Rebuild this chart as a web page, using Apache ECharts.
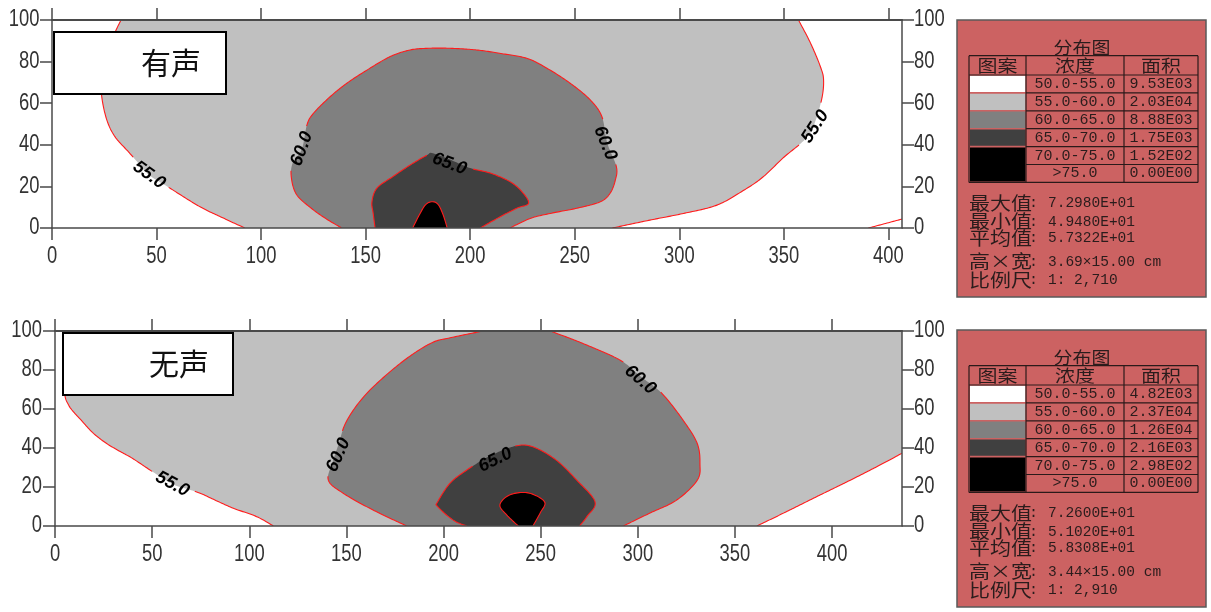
<!DOCTYPE html>
<html>
<head>
<meta charset="utf-8">
<script src="https://cdn.jsdelivr.net/npm/echarts/dist/echarts.min.js"></script>
<style>
  html, body { margin: 0; padding: 0; background: #fff; }
  #chart { width: 1211px; height: 612px; }
</style>
</head>
<body>
<div id="chart"></div>
<script>
// ---------- data ----------
const xTicks = [0, 50, 100, 150, 200, 250, 300, 350, 400];
const yTicks = [0, 20, 40, 60, 80, 100];
const fillColors = ['#ffffff', '#c0c0c0', '#808080', '#404040', '#000000'];

// 有声 profile: x extent and contour lines [x, y]
const topXMax = 406.5;
const top55Left = [[33,100],[30,93.6],[26.2,82.4],[23.8,72.7],[23.8,63.1],[26.2,52],[30.1,43.9],[36.5,36.7],[41,31.5],[46.4,25.5],[56.5,19.1],[70.8,10.2],[83.6,4],[92.2,0]];
const top55Right = [[268,0],[286,3.8],[302,7],[318,11],[330.6,18],[340,24.5],[350,34],[359.5,42],[364,48.6],[368,61.5],[369,71],[367.5,77.5],[362.7,89],[357,100]];
const top55Corner = [[390.4,0],[398,2],[406.5,4.3]];
const top60 = [[138.5,0],[131,4.5],[124,9.5],[117,16],[114.5,24],[115,31],[119.5,38],[121.9,49.5],[125,55.1],[133,63.1],[141,69.6],[150.6,75.9],[161.7,82.4],[171.3,85.6],[180,86.4],[190.4,86.4],[203,85.6],[214,84],[227,81.6],[236.7,76.8],[247.8,69.6],[257.4,61.6],[263,53.5],[265.5,41],[269.9,29.5],[269.4,23],[266.9,16.7],[262.2,12.6],[251,9.5],[238.3,7],[228.7,4.6],[219,0]];
const top65 = [[154.5,0],[153.6,7],[153,12.6],[155.4,19.2],[163,24.7],[171.3,30.3],[179.3,35],[181.7,36],[190,33],[200,28.8],[209.6,26.4],[219,22.3],[224.7,17.5],[227.9,11.9],[222.3,9.5],[214.3,5.4],[204.8,0]];
const top70 = [[172.5,0],[175.5,6],[178.5,11],[181.5,12.6],[184.5,11.5],[187,6.5],[189,0]];
// contour value labels: level, anchor [x, y], text angle in degrees
const topLabels = [
  { level: 55, at: [46.4, 25.5], angle: -36 },
  { level: 60, at: [119.5, 38], angle: 70 },
  { level: 65, at: [190, 30.8], angle: -20 },
  { level: 60, at: [264.6, 40.8], angle: -68 },
  { level: 55, at: [365, 48.7], angle: 57 }
];

// 无声 profile
const botXMax = 436;
const bot55Left = [[6,100],[5.5,82],[5,68],[7,62],[10,58],[13.7,54],[19.8,47.5],[26.6,42.3],[33,38.5],[40,34.6],[50,28],[60.4,21.5],[68,19],[74.7,16.8],[83,13],[91.8,9.1],[103.8,4.8],[112.4,0]];
const bot55Right = [[361.3,0],[375,6.6],[392,15],[409.4,23.5],[423,30.4],[436,37.3]];
const bot60Left = [[220.5,100],[203.4,96.5],[193,93.5],[177.6,83.3],[160.5,68],[150.2,54],[146,42],[143,33],[140.7,23.5],[148.5,16.7],[163.7,8.2],[181,0]];
const bot60Right = [[292.5,0],[306,6.5],[320,13.3],[330.6,23.5],[332,32],[330.6,42.3],[323.5,54],[312.4,68],[301.7,76.5],[291,85],[272,93.5],[255,100]];
const bot65 = [[212,0],[205,3],[197,9.9],[197,12.4],[203.4,22],[212,28.7],[224,36],[236.9,41],[246,40.6],[258,33.8],[268.6,23.5],[278,12.4],[273.8,4.8],[270,0]];
const bot70 = [[238.5,0],[232.6,5.6],[229,10.8],[234,15.9],[243.5,17],[252,12.4],[249.7,6.6],[246,0]];
const botLabels = [
  { level: 55, at: [60.4, 21.5], angle: -28 },
  { level: 60, at: [145.9, 36.4], angle: 66 },
  { level: 65, at: [226.6, 33.8], angle: 26 },
  { level: 60, at: [301.3, 74.9], angle: -41 }
];

// legend panel contents
const panelTitle = '分布图';
const tableHeader = ['图案', '浓度', '面积'];
const levelRanges = ['50.0-55.0', '55.0-60.0', '60.0-65.0', '65.0-70.0', '70.0-75.0', '>75.0'];
const topAreas = ['9.53E03', '2.03E04', '8.88E03', '1.75E03', '1.52E02', '0.00E00'];
const botAreas = ['4.82E03', '2.37E04', '1.26E04', '2.16E03', '2.98E02', '0.00E00'];
const statNames = ['最大值', '最小值', '平均值', '高×宽', '比例尺'];
const topStats = ['7.2980E+01', '4.9480E+01', '5.7322E+01', '3.69×15.00 cm', '1: 2,710'];
const botStats = ['7.2600E+01', '5.1020E+01', '5.8308E+01', '3.44×15.00 cm', '1: 2,910'];
const captions = ['有声', '无声'];

// ---------- rendering helpers ----------
const AXIS_COLOR = '#4a4a4a';
const TICK_FONT = '23px "Liberation Sans", Arial, sans-serif';
const CJK = '"Noto Sans CJK SC", sans-serif';
const MONO = '"Liberation Mono", "DejaVu Sans Mono", monospace';

function xAxisPair(gi, max) {
  const common = {
    gridIndex: gi, type: 'value', min: 0, max: max, interval: 50, z: 10,
    axisLine: { onZero: false, lineStyle: { color: AXIS_COLOR, width: 1.5 } },
    axisTick: { length: 12, customValues: xTicks, lineStyle: { color: AXIS_COLOR, width: 1.5 } },
    axisLabel: { show: false },
    splitLine: { show: false }
  };
  return [
    Object.assign({}, common, { position: 'bottom' }),
    Object.assign({}, common, {
      position: 'top',
      axisLine: { onZero: false, lineStyle: { color: AXIS_COLOR, width: 2 } }
    })
  ];
}

function yAxisPair(gi) {
  const common = {
    gridIndex: gi, type: 'value', min: 0, max: 100, interval: 20, z: 10,
    axisLine: { show: true, onZero: false, lineStyle: { color: AXIS_COLOR, width: 1.5 } },
    axisTick: { show: true, length: 12, lineStyle: { color: AXIS_COLOR, width: 1.5 } },
    axisLabel: { show: false },
    splitLine: { show: false }
  };
  return [
    Object.assign({}, common, { position: 'left' }),
    Object.assign({}, common, { position: 'right' })
  ];
}

// tick labels drawn as horizontally condensed text at the axis scale positions
function tickLabelSeries(xi, yi, side, values, off) {
  return {
    type: 'custom', xAxisIndex: xi, yAxisIndex: yi, clip: false, silent: true, z: 12,
    data: values.map(v => side === 'bottom' ? [v, 0] : [0, v]),
    renderItem: function (params, api) {
      const v = values[params.dataIndex];
      let x, y, align;
      if (side === 'bottom') {
        const c = api.coord([v, 0]); x = c[0]; y = c[1] + off; align = 'center';
      } else {
        const c = api.coord([0, v]);
        const edge = side === 'left' ? params.coordSys.x : params.coordSys.x + params.coordSys.width;
        x = side === 'left' ? edge - off : edge + off; y = c[1];
        align = side === 'left' ? 'right' : 'left';
      }
      return {
        type: 'text', x: x, y: y, scaleX: 0.8,
        style: { text: String(v), fill: '#333', font: TICK_FONT, align: align, verticalAlign: 'middle' }
      };
    }
  };
}

// Catmull-Rom curve through pixel points, so contours render as smooth curves
function smoothPx(px) {
  if (px.length < 3) return px.slice();
  const out = [px[0]];
  for (let i = 0; i < px.length - 1; i++) {
    const p0 = px[Math.max(i - 1, 0)], p1 = px[i], p2 = px[i + 1], p3 = px[Math.min(i + 2, px.length - 1)];
    const n = Math.max(2, Math.ceil(Math.hypot(p2[0] - p1[0], p2[1] - p1[1]) / 1.5));
    for (let k = 1; k <= n; k++) {
      const t = k / n, t2 = t * t, t3 = t2 * t;
      const f = j => 0.5 * (2 * p1[j] + (p2[j] - p0[j]) * t +
        (2 * p0[j] - 5 * p1[j] + 4 * p2[j] - p3[j]) * t2 +
        (3 * p1[j] - p0[j] - 3 * p2[j] + p3[j]) * t3);
      out.push([f(0), f(1)]);
    }
  }
  return out;
}

// filled bands: each polygon is painted over the previous one.
// parts are contour lines (smoothed) or single boundary corners
function regionSeries(xi, yi, polys) {
  return {
    type: 'custom', xAxisIndex: xi, yAxisIndex: yi, clip: true, silent: true, z: 2,
    data: polys.map(() => [0, 0]),
    renderItem: function (params, api) {
      const p = polys[params.dataIndex];
      let pts = [];
      p.parts.forEach(part => {
        if (Array.isArray(part[0])) pts = pts.concat(smoothPx(part.map(pt => api.coord(pt))));
        else pts.push(api.coord(part));
      });
      return { type: 'polygon', shape: { points: pts }, style: { fill: p.color, stroke: null } };
    }
  };
}

// contour lines, broken where a value label sits on them
function lineSeries(xi, yi, lines, labels) {
  return {
    type: 'custom', xAxisIndex: xi, yAxisIndex: yi, clip: true, silent: true, z: 3,
    data: lines.map(() => [0, 0]),
    renderItem: function (params, api) {
      const line = lines[params.dataIndex];
      const holes = labels.map(l => {
        const c = api.coord(l.at), a = l.angle * Math.PI / 180;
        return { cx: c[0], cy: c[1], cos: Math.cos(a), sin: Math.sin(a) };
      });
      const inHole = (x, y) => holes.some(h => {
        const dx = x - h.cx, dy = y - h.cy;
        const u = dx * h.cos - dy * h.sin, v = dx * h.sin + dy * h.cos;
        return Math.abs(u) < 23 && Math.abs(v) < 9;
      });
      const dense = smoothPx(line.map(p => api.coord(p)));
      const runs = [];
      let cur = [];
      dense.forEach(pt => {
        if (inHole(pt[0], pt[1])) { if (cur.length > 1) runs.push(cur); cur = []; }
        else cur.push(pt);
      });
      if (cur.length > 1) runs.push(cur);
      return {
        type: 'group',
        children: runs.map(r => ({
          type: 'polyline', shape: { points: r },
          style: { stroke: '#ff1c1c', lineWidth: 1.1, fill: null }
        }))
      };
    }
  };
}

function labelSeries(xi, yi, labels) {
  return {
    type: 'custom', xAxisIndex: xi, yAxisIndex: yi, clip: false, silent: true, z: 4,
    data: labels.map(l => l.at),
    renderItem: function (params, api) {
      const l = labels[params.dataIndex];
      const c = api.coord([api.value(0), api.value(1)]);
      return {
        type: 'text', x: c[0], y: c[1], rotation: l.angle * Math.PI / 180,
        style: {
          text: l.level.toFixed(1), fill: '#000',
          font: 'italic bold 18px "Liberation Sans", Arial, sans-serif',
          align: 'center', verticalAlign: 'middle'
        }
      };
    }
  };
}

// ---------- legend panels ----------
const PANEL_TEXT = '#2a1c1c';
function txt(s, x, y, font, align, sy) {
  return { type: 'text', x: x, y: y, scaleY: sy || 1, silent: true,
    style: { text: s, fill: PANEL_TEXT, font: font, align: align || 'center', verticalAlign: 'middle' } };
}
function seg(x1, y1, x2, y2, w) {
  return { type: 'line', silent: true, shape: { x1: x1, y1: y1, x2: x2, y2: y2 },
    style: { stroke: '#2a1a1a', lineWidth: w || 1.2 } };
}
function panel(top, areas, stats) {
  const L = 957, R = 1206, H = 277;
  const cols = [969, 1026, 1124, 1198];
  const tTop = top + 35.7, hdrB = top + 55, rowH = 17.9;
  const tBot = hdrB + rowH * 6;
  const els = [];
  els.push({ type: 'rect', silent: true, shape: { x: L, y: top, width: R - L, height: H },
    style: { fill: '#cc6262', stroke: '#5a5a5a', lineWidth: 1.5 } });
  els.push(txt(panelTitle, 1082, top + 28, '19px ' + CJK, 'center', 0.9));
  // swatches
  for (let i = 0; i < 5; i++) {
    const y0 = hdrB + rowH * i + 0.8;
    const h = (i === 4 ? rowH * 2 : rowH) - 1.6;
    els.push({ type: 'rect', silent: true, shape: { x: cols[0] + 1, y: y0, width: cols[1] - cols[0] - 1.5, height: h },
      style: { fill: fillColors[i] } });
  }
  // grid lines
  els.push(seg(cols[0], tTop, cols[3], tTop));
  els.push(seg(cols[0], hdrB, cols[3], hdrB));
  els.push(seg(cols[0], tBot, cols[3], tBot));
  for (let i = 1; i < 6; i++) els.push(seg(cols[1], hdrB + rowH * i, cols[3], hdrB + rowH * i));
  cols.forEach(x => els.push(seg(x, tTop, x, tBot)));
  // header and rows
  const centers = [(cols[0] + cols[1]) / 2, (cols[1] + cols[2]) / 2, (cols[2] + cols[3]) / 2];
  tableHeader.forEach((h, i) => els.push(txt(h, centers[i], (tTop + hdrB) / 2, '20px ' + CJK, 'center', 0.85)));
  levelRanges.forEach((r, i) => {
    const yc = hdrB + rowH * (i + 0.5);
    els.push(txt(r, centers[1], yc, '15px ' + MONO));
    els.push(txt(areas[i], centers[2], yc, '15px ' + MONO));
  });
  // statistics
  const statY = [183, 201.7, 218.3, 241.7, 260];
  statNames.forEach((n, i) => {
    els.push(txt(n, cols[0], top + statY[i], '21px ' + CJK, 'left', 0.85));
    els.push(txt(':', 1029, top + statY[i], '15px ' + MONO, 'left'));
    els.push(txt(stats[i], 1048, top + statY[i], '14.5px ' + MONO, 'left'));
  });
  return els;
}

function captionBox(x, y, w, h, s, cx) {
  return [
    { type: 'rect', silent: true, z: 20, shape: { x: x, y: y, width: w, height: h },
      style: { fill: '#fff', stroke: '#000', lineWidth: 2 } },
    { type: 'text', silent: true, z: 21, x: cx, y: y + h / 2,
      style: { text: s, fill: '#111', font: '30px ' + CJK, align: 'center', verticalAlign: 'middle' } }
  ];
}

// ---------- assemble ----------
const topPolys = [
  { color: fillColors[1], parts: [top55Left, top55Right] },
  { color: fillColors[2], parts: [top60] },
  { color: fillColors[3], parts: [top65] },
  { color: fillColors[4], parts: [top70] }
];
const botPolys = [
  { color: fillColors[1], parts: [bot55Left, bot55Right, [botXMax, 100]] },
  { color: fillColors[2], parts: [bot60Left, bot60Right] },
  { color: fillColors[3], parts: [bot65] },
  { color: fillColors[4], parts: [bot70] }
];
const topLines = [top55Left, top55Right, top55Corner, top60, top65, top70];
const botLines = [bot55Left, bot55Right, bot60Left, bot60Right, bot65, bot70];

const chart = echarts.init(document.getElementById('chart'), null, { renderer: 'canvas' });
chart.setOption({
  animation: false,
  backgroundColor: '#fff',
  grid: [
    { left: 52, top: 20, width: 850, height: 208, show: true, backgroundColor: '#fff', borderWidth: 0 },
    { left: 55, top: 331, width: 847, height: 195, show: true, backgroundColor: '#fff', borderWidth: 0 }
  ],
  xAxis: xAxisPair(0, topXMax).concat(xAxisPair(1, botXMax)),
  yAxis: yAxisPair(0).concat(yAxisPair(1)),
  series: [
    regionSeries(0, 0, topPolys),
    lineSeries(0, 0, topLines, topLabels),
    labelSeries(0, 0, topLabels),
    tickLabelSeries(0, 0, 'bottom', xTicks, 28.5),
    tickLabelSeries(0, 0, 'left', yTicks, 12.5),
    tickLabelSeries(0, 0, 'right', yTicks, 12),
    regionSeries(2, 2, botPolys),
    lineSeries(2, 2, botLines, botLabels),
    labelSeries(2, 2, botLabels),
    tickLabelSeries(2, 2, 'bottom', xTicks, 29),
    tickLabelSeries(2, 2, 'left', yTicks, 13),
    tickLabelSeries(2, 2, 'right', yTicks, 12)
  ],
  graphic: [].concat(
    captionBox(54, 32, 172, 62, captions[0], 171),
    captionBox(63, 333, 170, 62, captions[1], 179),
    panel(20, topAreas, topStats),
    panel(330, botAreas, botStats)
  )
});
</script>
</body>
</html>
